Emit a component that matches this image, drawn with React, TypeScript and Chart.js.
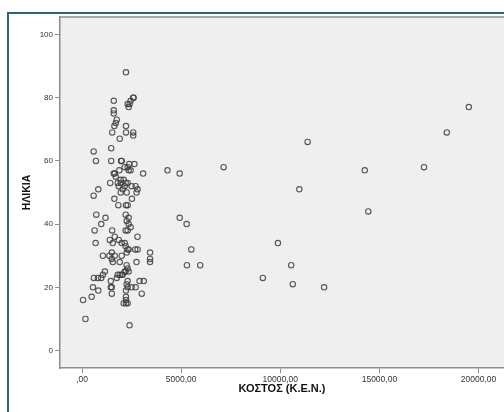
import React, { useEffect, useRef } from "react";
import { Chart, registerables } from "chart.js";
Chart.register(...registerables);

const X_TITLE = "ΚΟΣΤΟΣ (Κ.Ε.Ν.)";
const Y_TITLE = "ΗΛΙΚΙΑ";
const X_TICKS = [0, 5000, 10000, 15000, 20000];
const Y_TICKS = [0, 20, 40, 60, 80, 100];

const COST = [
  2215, 1600, 2580, 2600, 2300, 2400, 2350, 2450, 1600, 1600, 1750, 1700, 1630, 1520,
  2215, 2215, 2580, 2580, 1900, 11380, 19510, 18400,
  584, 1470, 700, 1470, 1970, 2000, 2380, 2640, 2300, 2450, 2350, 2150, 1880,
  3080, 4310, 4925, 7140, 14260, 17250, 1600, 1700, 1650,
  1950, 2100, 1800, 1950, 2200, 1420, 2300, 2500, 2700, 2800, 2750,
  818, 584, 10960, 14440, 1850, 2050, 2250, 1950, 2150,
  1630, 1830, 2215, 2300, 2515,
  718, 1183, 968, 634, 684, 2200, 2350, 2250, 2350, 2450, 2200, 2300, 1517,
  1400, 1650, 1550, 1850, 2000, 2150, 2200, 2795, 2680, 2800, 2300, 2250, 2350,
  1500, 1500, 1550, 1900, 2000, 1050, 1380, 1650, 3430, 3430, 3430, 2745,
  4925, 5275, 5510, 9880, 5290, 5960, 10550, 2250, 2300, 2350, 2200, 2150,
  1150, 1050, 968, 800, 600, 1450, 1750, 1800, 1900, 2000, 2050,
  1450, 1500, 1500, 2300, 2250, 2300, 2500, 2700, 2900,
  2215, 2215, 2215, 2215, 2100, 2300, 550, 818, 484, 50, 170, 2395,
  3010, 3110, 9120, 10630, 12210,
];

const AGE = [
  88, 79, 80, 80, 78, 78, 77, 79, 76, 75, 73, 72, 71, 69,
  71, 69, 69, 68, 67, 66, 77, 69,
  63, 64, 60, 60, 60, 60, 59, 59, 58, 57, 57, 58, 57,
  56, 57, 56, 58, 57, 58, 56, 55, 56,
  54, 54, 53, 53, 53, 53, 53, 52, 52, 51, 50,
  51, 49, 51, 44, 52, 51, 50, 50, 52,
  48, 46, 46, 46, 48,
  43, 42, 40, 38, 34, 43, 42, 41, 40, 39, 38, 38, 38,
  35, 36, 34, 35, 34, 34, 33, 36, 32, 32, 32, 31, 32,
  31, 29, 28, 28, 30, 30, 30, 30, 31, 29, 28, 28,
  42, 40, 32, 34, 27, 27, 27, 27, 26, 25, 25, 25,
  25, 24, 23, 23, 23, 22, 23, 24, 24, 24, 24,
  20, 20, 18, 22, 21, 20, 20, 20, 22,
  19, 17, 16, 15, 15, 15, 20, 19, 17, 16, 10, 8,
  18, 22, 23, 21, 20,
];

const FONT = "'Liberation Sans', Arial, sans-serif";
const VIEW_W = 504;

const bgPlugin = {
  id: "plotBg",
  beforeDraw(chart: any) {
    const { ctx, chartArea: a } = chart;
    ctx.save();
    ctx.fillStyle = "#efefef";
    ctx.fillRect(a.left, a.top, a.right - a.left, a.bottom - a.top);
    ctx.strokeStyle = "#8c8c8c";
    ctx.lineWidth = 1.5;
    ctx.beginPath();
    ctx.moveTo(a.left, a.top);
    ctx.lineTo(a.right, a.top);
    ctx.stroke();
    ctx.restore();
  },
  afterDraw(chart: any) {
    const { ctx, chartArea: a } = chart;
    const xs = chart.scales.x;
    ctx.save();
    ctx.fillStyle = "#111";
    ctx.font = `bold 11px ${FONT}`;
    ctx.textAlign = "center";
    ctx.textBaseline = "middle";
    ctx.fillText(X_TITLE, (a.left + VIEW_W) / 2, xs.bottom - 23);
    ctx.restore();
  },
};

function fmt(v: number) {
  const s = v.toFixed(2).replace(".", ",");
  return s.startsWith("0,") ? s.slice(1) : s;
}

export default function App() {
  const ref = useRef<HTMLCanvasElement | null>(null);
  useEffect(() => {
    if (!ref.current) return;
    const data = COST.map((c, i) => ({ x: c, y: AGE[i] }));
    const chart = new Chart(ref.current, {
      type: "scatter",
      data: {
        datasets: [
          {
            data,
            pointStyle: "circle",
            pointRadius: 2.7,
            pointBorderWidth: 1.1,
            pointBorderColor: "rgba(60,60,60,0.85)",
            pointBackgroundColor: "rgba(0,0,0,0)",
          },
        ],
      },
      options: {
        animation: false,
        responsive: false,
        devicePixelRatio: 1,
        layout: { padding: { top: 17, left: 0, right: 0, bottom: 0 } },
        plugins: { legend: { display: false }, tooltip: { enabled: false } },
        scales: {
          x: {
            type: "linear",
            min: -1113,
            max: 22340,
            afterBuildTicks: (s: any) => {
              s.ticks = X_TICKS.map((v) => ({ value: v }));
            },
            afterFit: (s: any) => {
              s.height = 44;
            },
            ticks: {
              autoSkip: false,
              maxRotation: 0,
              padding: 2,
              color: "#333",
              font: { family: FONT, size: 8.5 },
              callback: (v: any) => fmt(Number(v)),
            },
            grid: {
              display: true,
              drawOnChartArea: false,
              drawTicks: true,
              tickLength: 5,
              color: "#8c8c8c",
              lineWidth: 1,
            },
            border: { display: true, color: "#8c8c8c", width: 1.5 },
            title: { display: false },
          },
          y: {
            type: "linear",
            min: -5.5,
            max: 105.5,
            afterBuildTicks: (s: any) => {
              s.ticks = Y_TICKS.map((v) => ({ value: v }));
            },
            afterFit: (s: any) => {
              s.width = 60;
            },
            ticks: {
              autoSkip: false,
              padding: 2,
              color: "#333",
              font: { family: FONT, size: 8 },
            },
            grid: {
              display: true,
              drawOnChartArea: false,
              drawTicks: true,
              tickLength: 5,
              color: "#8c8c8c",
              lineWidth: 1,
            },
            border: { display: true, color: "#8c8c8c", width: 1.5 },
            title: {
              display: true,
              text: Y_TITLE,
              color: "#111",
              font: { family: FONT, size: 10.5, weight: "bold" },
              padding: { top: 21, bottom: 0 },
            },
          },
        },
      },
      plugins: [bgPlugin],
    } as any);
    return () => chart.destroy();
  }, []);

  return (
    <div
      style={{
        position: "absolute",
        left: 0,
        top: 0,
        width: 504,
        height: 412,
        background: "#fff",
        overflow: "hidden",
      }}
    >
      <div
        style={{
          position: "absolute",
          left: 7,
          top: 12,
          width: 540,
          height: 420,
          borderLeft: "2px solid #2b6779",
          borderTop: "2px solid #2b6779",
          boxSizing: "border-box",
        }}
      />
      <canvas
        ref={ref}
        width={530}
        height={412}
        style={{ position: "absolute", left: 0, top: 0, width: 530, height: 412 }}
      />
    </div>
  );
}
